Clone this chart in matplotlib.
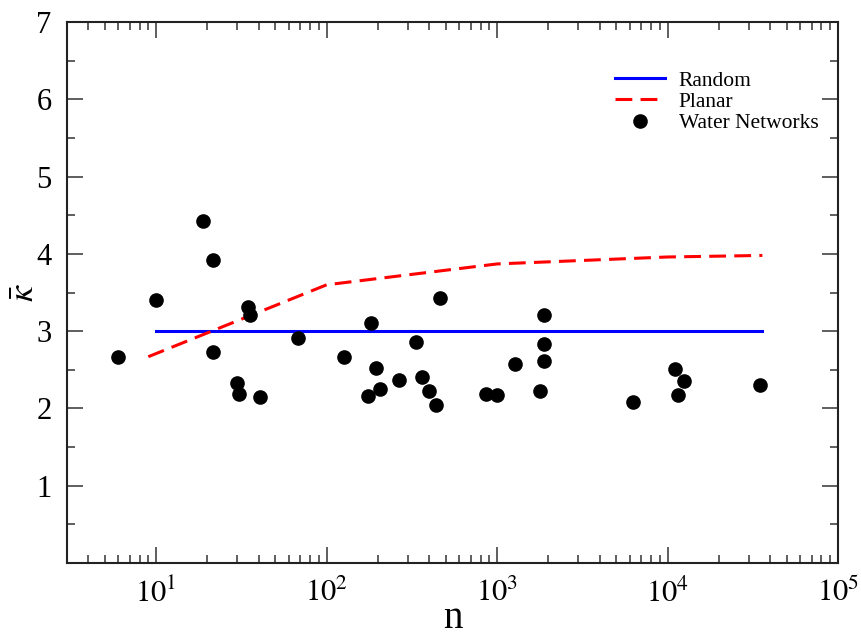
import numpy as np
import matplotlib.pyplot as plt
from matplotlib.ticker import LogLocator, FixedLocator, NullFormatter

plt.rcParams["font.family"] = "Liberation Serif"
plt.rcParams["mathtext.fontset"] = "stix"

# reference lines
random_n = [10, 36000]
random_k = [3.0, 3.0]

planar_n = [9, 100, 1000, 10000, 36000]
planar_k = [2.67, 3.60, 3.87, 3.96, 3.98]

# water networks: size n and mean degree
water_n = [6.0, 10, 18.9, 21.6, 21.6, 29.9, 30.7, 34.7, 35.6, 40.7,
           68, 127, 182, 195, 175, 206, 266, 335, 361, 399,
           438, 463, 861, 1000, 1276, 1786, 1887, 1887, 1887,
           6280, 11070, 11500, 12500, 34900]
water_k = [2.67, 3.40, 4.42, 3.92, 2.73, 2.33, 2.19, 3.31, 3.21, 2.15,
           2.91, 2.67, 3.10, 2.53, 2.16, 2.25, 2.37, 2.86, 2.41, 2.22,
           2.05, 3.43, 2.19, 2.17, 2.57, 2.23, 3.21, 2.84, 2.61,
           2.09, 2.51, 2.17, 2.36, 2.31]

fig = plt.figure(figsize=(8.61, 6.37), dpi=100)
ax = fig.add_axes([0.0778, 0.116, 0.8955, 0.8495])

ax.plot(random_n, random_k, color="#0000ff", lw=2.2, label="Random")
ax.plot(planar_n, planar_k, color="#ff0000", lw=2.2, dashes=(5.5, 2.7),
        label="Planar")
ax.plot(water_n, water_k, "o", color="black", ms=9.5, mec="black",
        label="Water Networks")

ax.set_xscale("log")
ax.set_xlim(3, 1e5)
ax.set_ylim(0, 7)

ax.xaxis.set_major_locator(FixedLocator([10, 100, 1000, 10000, 100000]))
ax.set_xticklabels([r"$10^{1}$", r"$10^{2}$", r"$10^{3}$", r"$10^{4}$",
                    r"$10^{5}$"])
ax.xaxis.set_minor_locator(LogLocator(base=10, subs=np.arange(2, 10)))
ax.xaxis.set_minor_formatter(NullFormatter())
ax.set_yticks([1, 2, 3, 4, 5, 6, 7])
ax.set_yticks(np.arange(0.5, 7, 1.0), minor=True)

ax.tick_params(which="both", direction="in", top=True, right=True,
               labelsize=22, width=1.1, color="#333333")
ax.tick_params(which="major", length=11.5, pad=11)
ax.tick_params(which="minor", length=6)
for s in ax.spines.values():
    s.set_linewidth(1.5)
    s.set_color("#222222")

ax.set_xlabel("n", fontsize=28)
ax.xaxis.label.set_va("baseline")
ax.xaxis.set_label_coords(0.5, -0.119)
ax.set_ylabel(r"$\bar{\kappa}$", fontsize=26)
ax.yaxis.set_label_coords(-0.033, 0.5)

ax.legend(loc="upper left", bbox_to_anchor=(0.711, 0.910), frameon=False,
          fontsize=15.5, handlelength=2.3, handletextpad=0.65,
          labelspacing=0.05, borderpad=0, borderaxespad=0)

fig.savefig("out.png", dpi=100)
